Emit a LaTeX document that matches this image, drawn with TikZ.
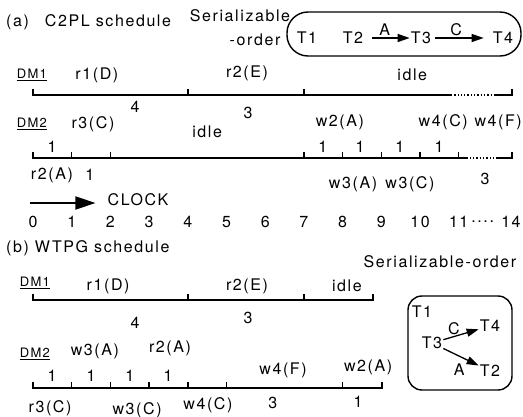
\documentclass[tikz,border=0pt]{standalone}
\usepackage{fontspec}
\setmainfont{TeX Gyre Heros}[LetterSpace=10]
\usetikzlibrary{arrows.meta,positioning}
\newcommand\lblsize{\fontsize{16}{19}\selectfont}
\newcommand\dmsize{\fontsize{13}{15}\selectfont}
\tikzset{
  lbl/.style={font=\lblsize, inner sep=1pt},
  dm/.style={font=\dmsize, inner sep=1pt},
  axis/.style={line width=1.4pt},
  dots/.style={line width=1.4pt, dash pattern=on 1.3pt off 2pt},
  dep/.style={-{Triangle[length=12pt,width=8pt]}, line width=1.3pt},
  orderbox/.style={draw, line width=1.4pt},
}
\begin{document}
\begin{tikzpicture}[x=1pt, y=-1pt]
\useasboundingbox (0,0) rectangle (523,417);

% (a) heading and order
\node[lbl, anchor=west] (ttla) at (5,22) {(a)\quad C2PL schedule};
\node[lbl] (sera) at (240,16) {Serializable};
\node[lbl] (orda) at (255,40) {-order};
\node[orderbox, minimum width=234pt, minimum height=44pt, rounded corners=21pt] (boxa) at (404,34) {};
\node[lbl] (t1a) at (307,38) {T1};
\node[lbl] (t2a) at (353,38) {T2};
\node[lbl] (t3a) at (421,38) {T3};
\node[lbl] (t4a) at (503,38) {T4};
\draw[dep, shorten <=8pt, shorten >=0pt] (t2a) -- node[lbl, above=1pt, pos=0.45] (ea) {A} (t3a);
\draw[dep, shorten <=3pt, shorten >=8pt] (t3a) -- node[lbl, above=1pt, pos=0.4] (ec) {C} (t4a);

% (a) DM1
\begin{scope}[shift={(33,95)}, x=38.7pt]
  \node[dm] (dm1a) at (-0.03,-20) {\underline{DM1}};
  \draw[axis] (0,-6) -- (0,0) -- (10.8,0);
  \draw[dots] (10.8,0) -- (11.9,0);
  \draw[axis] (11.9,0) -- (12.38,0) -- (12.38,-6);
  \foreach \t in {4,7} \draw[axis] (\t,0) -- (\t,-6);
  \node[lbl] (r1a) at (1.65,-20) {r1(D)};
  \node[lbl] (r2a) at (5.53,-22) {r2(E)};
  \node[lbl] (idla) at (9.8,-20) {idle};
  \node[lbl] (d1a4) at (2.64,12) {4};
  \node[lbl] (d1a3) at (5.56,18) {3};
\end{scope}

% (a) DM2
\begin{scope}[shift={(33,158)}, x=38.7pt]
  \node[dm] (dm2a) at (-0.03,-34) {\underline{DM2}};
  \draw[axis] (0,-6) -- (0,0) -- (11.2,0);
  \draw[dots] (11.2,0) -- (12.0,0);
  \draw[axis] (12.0,0) -- (12.38,0) -- (12.38,-6);
  \foreach \t in {1,2,7,8,9,10,11} \draw[axis] (\t,0) -- (\t,-6);
  \node[lbl] (u0a) at (0.49,-11) {1};
  \foreach \t [count=\i] in {7.49,8.45,9.48,10.49} \node[lbl] (u\i a) at (\t,-11) {1};
  \node[lbl] (r3a) at (1.55,-34) {r3(C)};
  \node[lbl] (idlb) at (4.5,-26) {idle};
  \node[lbl] (w2a) at (7.93,-36) {w2(A)};
  \node[lbl] (w4ca) at (10.6,-36) {w4(C)};
  \node[lbl] (w4fa) at (12.02,-36) {w4(F)};
  \node[lbl] (r2aa) at (0.49,17) {r2(A)};
  \node[lbl] (l1a) at (1.47,17) {1};
  \node[lbl] (w3aa) at (8.27,26) {w3(A)};
  \node[lbl] (w3ca) at (9.74,26) {w3(C)};
  \node[lbl] (l3a) at (11.68,21) {3};
\end{scope}

% clock
\coordinate (clk0) at (30,203);
\node[lbl] (clock) at (138,200) {CLOCK};
\draw[-{Triangle[length=20pt,width=13pt]}, line width=1.8pt, shorten >=11pt] (clk0) -- (clock.west |- clk0);
\begin{scope}[shift={(33,222)}, x=38.7pt]
  \foreach \t in {0,...,11} \node[lbl] (c\t) at (\t,0) {\t};
  \node[lbl] (cdots) at (11.62,0) {....};
  \node[lbl] (c14) at (12.35,0) {14};
\end{scope}

% (b) heading and order
\node[lbl, anchor=west] (ttlb) at (5,248) {(b) WTPG schedule};
\node[lbl] (serb) at (440,262) {Serializable-order};
\node[orderbox, minimum width=104pt, minimum height=94pt, rounded corners=14pt] (boxb) at (460,343) {};
\node[lbl] (t1b) at (422,312) {T1};
\node[lbl] (t3b) at (432,343) {T3};
\node[lbl] (t4b) at (490,326) {T4};
\node[lbl] (t2b) at (490,371) {T2};
\draw[dep] (t3b) -- node[lbl, above=0pt, pos=0.3] (ecb) {C} (t4b);
\draw[dep] (t3b) -- node[lbl, below=6pt, pos=0.45] (eab) {A} (t2b);

% (b) DM1
\begin{scope}[shift={(33,300)}, x=38.7pt]
  \node[dm] (dm1b) at (0.05,-17) {\underline{DM1}};
  \draw[axis] (0,-6) -- (0,0) -- (8.79,0) -- (8.79,-6);
  \foreach \t in {4,7} \draw[axis] (\t,0) -- (\t,-6);
  \node[lbl] (r1b) at (1.94,-14) {r1(D)};
  \node[lbl] (r2b) at (5.53,-14) {r2(E)};
  \node[lbl] (idlc) at (8.11,-14) {idle};
  \node[lbl] (d1b4) at (2.64,23) {4};
  \node[lbl] (d1b3) at (5.56,18) {3};
\end{scope}

% (b) DM2
\begin{scope}[shift={(33,388)}, x=38.7pt]
  \node[dm] (dm2b) at (0.05,-34) {\underline{DM2}};
  \draw[axis] (0,-6) -- (0,0) -- (9.02,0) -- (9.02,-6);
  \foreach \t in {1,2,3,4,5,8} \draw[axis] (\t,0) -- (\t,-6);
  \foreach \t [count=\i] in {0.49,1.5,2.5,3.49} \node[lbl] (v\i b) at (\t,-12) {1};
  \node[lbl] (w3ab) at (1.6,-37) {w3(A)};
  \node[lbl] (r2ab) at (3.54,-40) {r2(A)};
  \node[lbl] (w4fb) at (6.46,-18) {w4(F)};
  \node[lbl] (w2ab) at (8.66,-21) {w2(A)};
  \node[lbl] (r3b) at (0.44,20) {r3(C)};
  \node[lbl] (w3cb) at (2.69,22) {w3(C)};
  \node[lbl] (w4cb) at (4.52,17) {w4(C)};
  \node[lbl] (l3b) at (6.2,15) {3};
  \node[lbl] (l1b) at (8.4,14) {1};
\end{scope}
\end{tikzpicture}
\end{document}
